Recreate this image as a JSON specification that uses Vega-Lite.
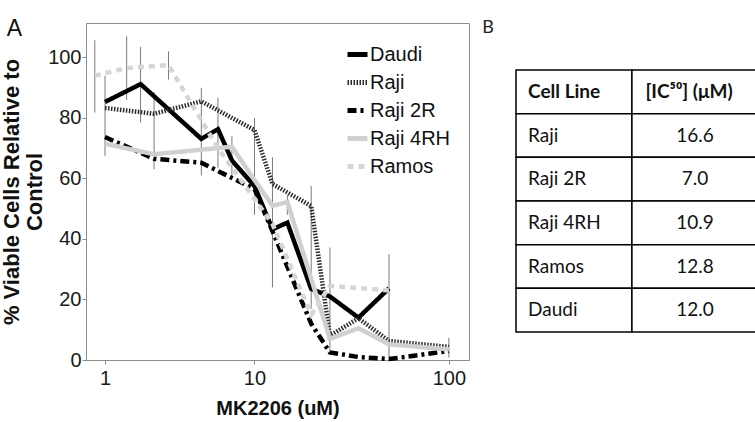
{
  "$schema": "https://vega.github.io/schema/vega-lite/v6.json",
  "background": "white",
  "padding": {"left": 0, "top": 17, "right": 0, "bottom": 0},
  "spacing": 12,
  "config": {"view": {"stroke": null}, "font": "Liberation Sans"},
  "datasets": {
    "curves": [
      {"line": "Daudi", "conc": 1, "v": 85.3},
      {"line": "Daudi", "conc": 2, "v": 91.2},
      {"line": "Daudi", "conc": 5, "v": 73.1},
      {"line": "Daudi", "conc": 6.25, "v": 76.3},
      {"line": "Daudi", "conc": 7.5, "v": 66},
      {"line": "Daudi", "conc": 10, "v": 57.5},
      {"line": "Daudi", "conc": 12.5, "v": 43.2},
      {"line": "Daudi", "conc": 15, "v": 45.4},
      {"line": "Daudi", "conc": 20, "v": 23.5},
      {"line": "Daudi", "conc": 25, "v": 21},
      {"line": "Daudi", "conc": 35, "v": 14},
      {"line": "Daudi", "conc": 50, "v": 23.7},
      {"line": "Raji", "conc": 1, "v": 83.3},
      {"line": "Raji", "conc": 2.5, "v": 81.4},
      {"line": "Raji", "conc": 5, "v": 85.5},
      {"line": "Raji", "conc": 10, "v": 76},
      {"line": "Raji", "conc": 12.5, "v": 58.2},
      {"line": "Raji", "conc": 20, "v": 50.9},
      {"line": "Raji", "conc": 25, "v": 8},
      {"line": "Raji", "conc": 35, "v": 13.8},
      {"line": "Raji", "conc": 50, "v": 6.3},
      {"line": "Raji", "conc": 100, "v": 4.3},
      {"line": "Raji 2R", "conc": 1, "v": 73.7},
      {"line": "Raji 2R", "conc": 2.5, "v": 66.5},
      {"line": "Raji 2R", "conc": 5, "v": 65.2},
      {"line": "Raji 2R", "conc": 10, "v": 56.5},
      {"line": "Raji 2R", "conc": 12.5, "v": 42.6},
      {"line": "Raji 2R", "conc": 20, "v": 12},
      {"line": "Raji 2R", "conc": 25, "v": 2.5},
      {"line": "Raji 2R", "conc": 35, "v": 1},
      {"line": "Raji 2R", "conc": 50, "v": 0.3},
      {"line": "Raji 2R", "conc": 100, "v": 3},
      {"line": "Raji 4RH", "conc": 1, "v": 71.5},
      {"line": "Raji 4RH", "conc": 2.5, "v": 68},
      {"line": "Raji 4RH", "conc": 7.5, "v": 70.5},
      {"line": "Raji 4RH", "conc": 10, "v": 59.5},
      {"line": "Raji 4RH", "conc": 12.5, "v": 51},
      {"line": "Raji 4RH", "conc": 15, "v": 52.2},
      {"line": "Raji 4RH", "conc": 25, "v": 7},
      {"line": "Raji 4RH", "conc": 35, "v": 10.5},
      {"line": "Raji 4RH", "conc": 50, "v": 5.2},
      {"line": "Raji 4RH", "conc": 100, "v": 3.5},
      {"line": "Ramos", "conc": 0.78, "v": 94},
      {"line": "Ramos", "conc": 1.56, "v": 96.5},
      {"line": "Ramos", "conc": 3.125, "v": 97.5},
      {"line": "Ramos", "conc": 6.25, "v": 70},
      {"line": "Ramos", "conc": 12.5, "v": 45},
      {"line": "Ramos", "conc": 20, "v": 15},
      {"line": "Ramos", "conc": 25, "v": 24.5},
      {"line": "Ramos", "conc": 50, "v": 23}
    ],
    "errs": [
      {"conc": 0.78, "v": 81.8, "v2": 105.7},
      {"conc": 1, "v": 67.5, "v2": 94},
      {"conc": 1.56, "v": 86, "v2": 107},
      {"conc": 2, "v": 78.5, "v2": 103.5},
      {"conc": 2.5, "v": 63, "v2": 88.5},
      {"conc": 3.125, "v": 92.7, "v2": 102},
      {"conc": 5, "v": 61, "v2": 90},
      {"conc": 6.25, "v": 63.6, "v2": 86.7},
      {"conc": 7.5, "v": 60.3, "v2": 74},
      {"conc": 10, "v": 48, "v2": 80},
      {"conc": 12.5, "v": 24, "v2": 67},
      {"conc": 15, "v": 48, "v2": 54.5},
      {"conc": 20, "v": 17, "v2": 57.5},
      {"conc": 25, "v": 2.2, "v2": 37.2},
      {"conc": 50, "v": 0.5, "v2": 35},
      {"conc": 100, "v": 0.8, "v2": 7.4}
    ],
    "table": [
      {"row": 0, "line": "Cell Line", "ic50": "[IC⁵⁰] (μM)"},
      {"row": 1, "line": "Raji", "ic50": "16.6"},
      {"row": 2, "line": "Raji 2R", "ic50": "7.0"},
      {"row": 3, "line": "Raji 4RH", "ic50": "10.9"},
      {"row": 4, "line": "Ramos", "ic50": "12.8"},
      {"row": 5, "line": "Daudi", "ic50": "12.0"}
    ]
  },
  "hconcat": [
    {
      "width": 383,
      "height": 337,
      "view": {"stroke": "#8c8c8c", "strokeWidth": 1},
      "title": {"text": "A", "anchor": "start", "frame": "bounds", "orient": "top", "offset": -18, "dx": 6, "fontSize": 23, "font": "Liberation Sans", "fontWeight": "normal", "color": "#111"},
      "encoding": {
        "x": {"field": "conc", "type": "quantitative",
          "scale": {"type": "symlog", "constant": 1, "domain": [0.61, 126], "nice": false, "zero": false},
          "axis": {"values": [1, 10, 100], "format": "d", "title": "MK2206 (uM)", "grid": false, "labelFlush": false,
            "domainColor": "#8c8c8c", "tickColor": "#8c8c8c", "tickSize": 4, "labelPadding": 4,
            "labelFontSize": 20, "labelFont": "Liberation Sans", "labelColor": "#1a1a1a",
            "titleFontSize": 20, "titleFont": "Liberation Sans", "titleFontWeight": "bold", "titleColor": "#111", "titlePadding": 10}},
        "y": {"field": "v", "type": "quantitative",
          "scale": {"domain": [0, 111.4], "nice": false},
          "axis": {"values": [0, 20, 40, 60, 80, 100], "title": ["% Viable Cells Relative to", "Control"], "grid": false, "labelFlush": false,
            "domainColor": "#8c8c8c", "tickColor": "#8c8c8c", "tickSize": 4, "labelPadding": 1,
            "labelFontSize": 20, "labelFont": "Liberation Sans", "labelColor": "#1a1a1a",
            "titleFontSize": 22, "titleFont": "Liberation Sans", "titleFontWeight": "bold", "titleColor": "#111", "titlePadding": 1, "titleLineHeight": 23}}
      },
      "layer": [
        {
          "data": {"name": "errs"},
          "mark": {"type": "rule", "color": "#7a7a7a", "strokeWidth": 1},
          "encoding": {"y2": {"field": "v2"}}
        },
        {
          "data": {"name": "curves"},
          "mark": {"type": "line", "strokeWidth": 4.5},
          "encoding": {
            "color": {"field": "line", "type": "nominal",
              "scale": {"domain": ["Daudi", "Raji", "Raji 2R", "Raji 4RH", "Ramos"], "range": ["#000000", "#2a2a2a", "#000000", "#d0d0d0", "#d6d6d6"]},
              "legend": {"orient": "none", "legendX": 259, "legendY": 19, "title": null, "symbolType": "stroke", "symbolStrokeWidth": 5, "symbolSize": 400,
                "labelFontSize": 20, "labelFont": "Liberation Sans", "labelColor": "#111", "rowPadding": 5, "labelOffset": 0}},
            "strokeDash": {"field": "line", "type": "nominal",
              "scale": {"domain": ["Daudi", "Raji", "Raji 2R", "Raji 4RH", "Ramos"], "range": [[1, 0], [1.5, 1.5], [9, 4, 3, 4], [1, 0], [6, 5]]}}
          }
        }
      ]
    },
    {
      "width": 241,
      "height": 337,
      "view": {"fill": "white", "stroke": null},
      "title": {"text": "B", "anchor": "start", "frame": "bounds", "orient": "top", "offset": -14, "dx": -33, "fontSize": 18, "font": "Lato", "fontWeight": "normal", "color": "#222"},
      "data": {"name": "table"},
      "encoding": {
        "y": {"field": "row", "type": "ordinal", "scale": {"paddingInner": 0, "paddingOuter": 0.859, "align": 0.627}, "axis": null}
      },
      "layer": [
        {
          "mark": {"type": "rect", "fill": "white", "stroke": "#000", "strokeWidth": 1.5},
          "encoding": {"x": {"datum": 0, "type": "quantitative", "scale": {"domain": [0, 1], "nice": false, "zero": false}, "axis": null}, "x2": {"datum": 0.481}}
        },
        {
          "mark": {"type": "rect", "fill": "white", "stroke": "#000", "strokeWidth": 1.5},
          "encoding": {"x": {"datum": 0.481, "type": "quantitative"}, "x2": {"datum": 1}}
        },
        {
          "transform": [{"filter": "datum.row > 0"}],
          "mark": {"type": "text", "align": "left", "baseline": "middle", "font": "Lato", "fontSize": 19, "color": "#111"},
          "encoding": {"x": {"datum": 0.05, "type": "quantitative"}, "text": {"field": "line"}}
        },
        {
          "transform": [{"filter": "datum.row > 0"}],
          "mark": {"type": "text", "align": "center", "baseline": "middle", "font": "Lato", "fontSize": 19, "color": "#111"},
          "encoding": {"x": {"datum": 0.743, "type": "quantitative"}, "text": {"field": "ic50"}}
        },
        {
          "transform": [{"filter": "datum.row == 0"}],
          "mark": {"type": "text", "align": "left", "baseline": "middle", "font": "Lato", "fontSize": 19, "fontWeight": "bold", "color": "#111"},
          "encoding": {"x": {"datum": 0.05, "type": "quantitative"}, "text": {"field": "line"}}
        },
        {
          "transform": [{"filter": "datum.row == 0"}],
          "mark": {"type": "text", "align": "center", "baseline": "middle", "font": "Lato", "fontSize": 19, "fontWeight": "bold", "color": "#111"},
          "encoding": {"x": {"datum": 0.718, "type": "quantitative"}, "text": {"field": "ic50"}}
        }
      ]
    }
  ]
}
